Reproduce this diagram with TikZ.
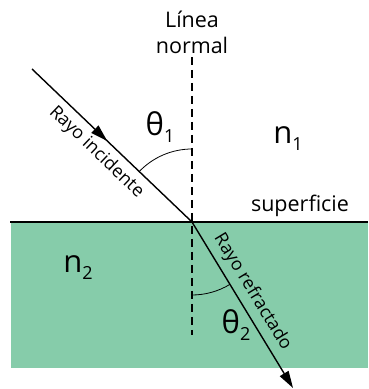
\documentclass[tikz,border=0pt]{standalone}
\usepackage{fontspec}
\setmainfont{Open Sans}
\usetikzlibrary{arrows.meta,decorations.markings}
\definecolor{agua}{RGB}{134,204,170}
\tikzset{
  ray/.style={line width=1.4pt},
  normalline/.style={line width=1.3pt, dash pattern=on 8pt off 5pt},
  lbl/.style={inner sep=1pt, font=\fontsize{21.5}{23}\selectfont},
  raylbl/.style={inner sep=2pt, font=\fontsize{18}{20}\selectfont},
  big/.style={inner sep=0pt, font=\fontsize{31}{33}\selectfont},
  midarrow/.style={postaction={decorate}, decoration={markings, mark=at position 0.47 with {\arrow{Triangle[length=17pt,width=10pt]}}}}
}
\begin{document}
\begin{tikzpicture}[x=1pt,y=1pt]
\useasboundingbox (0,0) rectangle (368,389);
\fill[agua] (11,21) rectangle (368,167);
\coordinate (O) at (192,167);
\coordinate (ntop) at (192,332);
\coordinate (nbot) at (192,54);
\coordinate (inc) at (32,320);
\coordinate (ref) at (293,1);
\coordinate (sl) at (10,167);
\coordinate (sr) at (368,167);
\draw[normalline] (ntop) -- (nbot);
\draw[line width=2.8pt] (sl) -- (sr);
\draw[ray, midarrow] (inc) -- (O) node[raylbl, pos=0.47, sloped, below=4pt] (tinc) {Rayo incidente};
\draw[ray, -{Triangle[length=17pt,width=10pt]}] (O) -- (ref);
\path (O) -- (ref) node[raylbl, pos=0.47, sloped, above=4pt] (tref) {Rayo refractado};
\draw[line width=0.8pt] (O) ++(90:73) arc[start angle=90, end angle=136.3, radius=73];
\draw[line width=0.8pt] (O) ++(-90:73) arc[start angle=-90, end angle=-58.7, radius=73];
\node[lbl] (l1) at (192,370) {Línea};
\node[lbl] (l2) at (192,344) {normal};
\node[lbl] (sup) at (300,183) {superficie};
\node[big] (t1) at (160,262) {θ\raisebox{-7pt}{\fontsize{18}{18}\selectfont 1}};
\node[big] (t2) at (236,64) {θ\raisebox{-7pt}{\fontsize{18}{18}\selectfont 2}};
\node[big] (n1) at (288,250) {n\raisebox{-7pt}{\fontsize{18}{18}\selectfont 1}};
\node[big] (n2) at (78,121) {n\raisebox{-7pt}{\fontsize{18}{18}\selectfont 2}};
\end{tikzpicture}
\end{document}
